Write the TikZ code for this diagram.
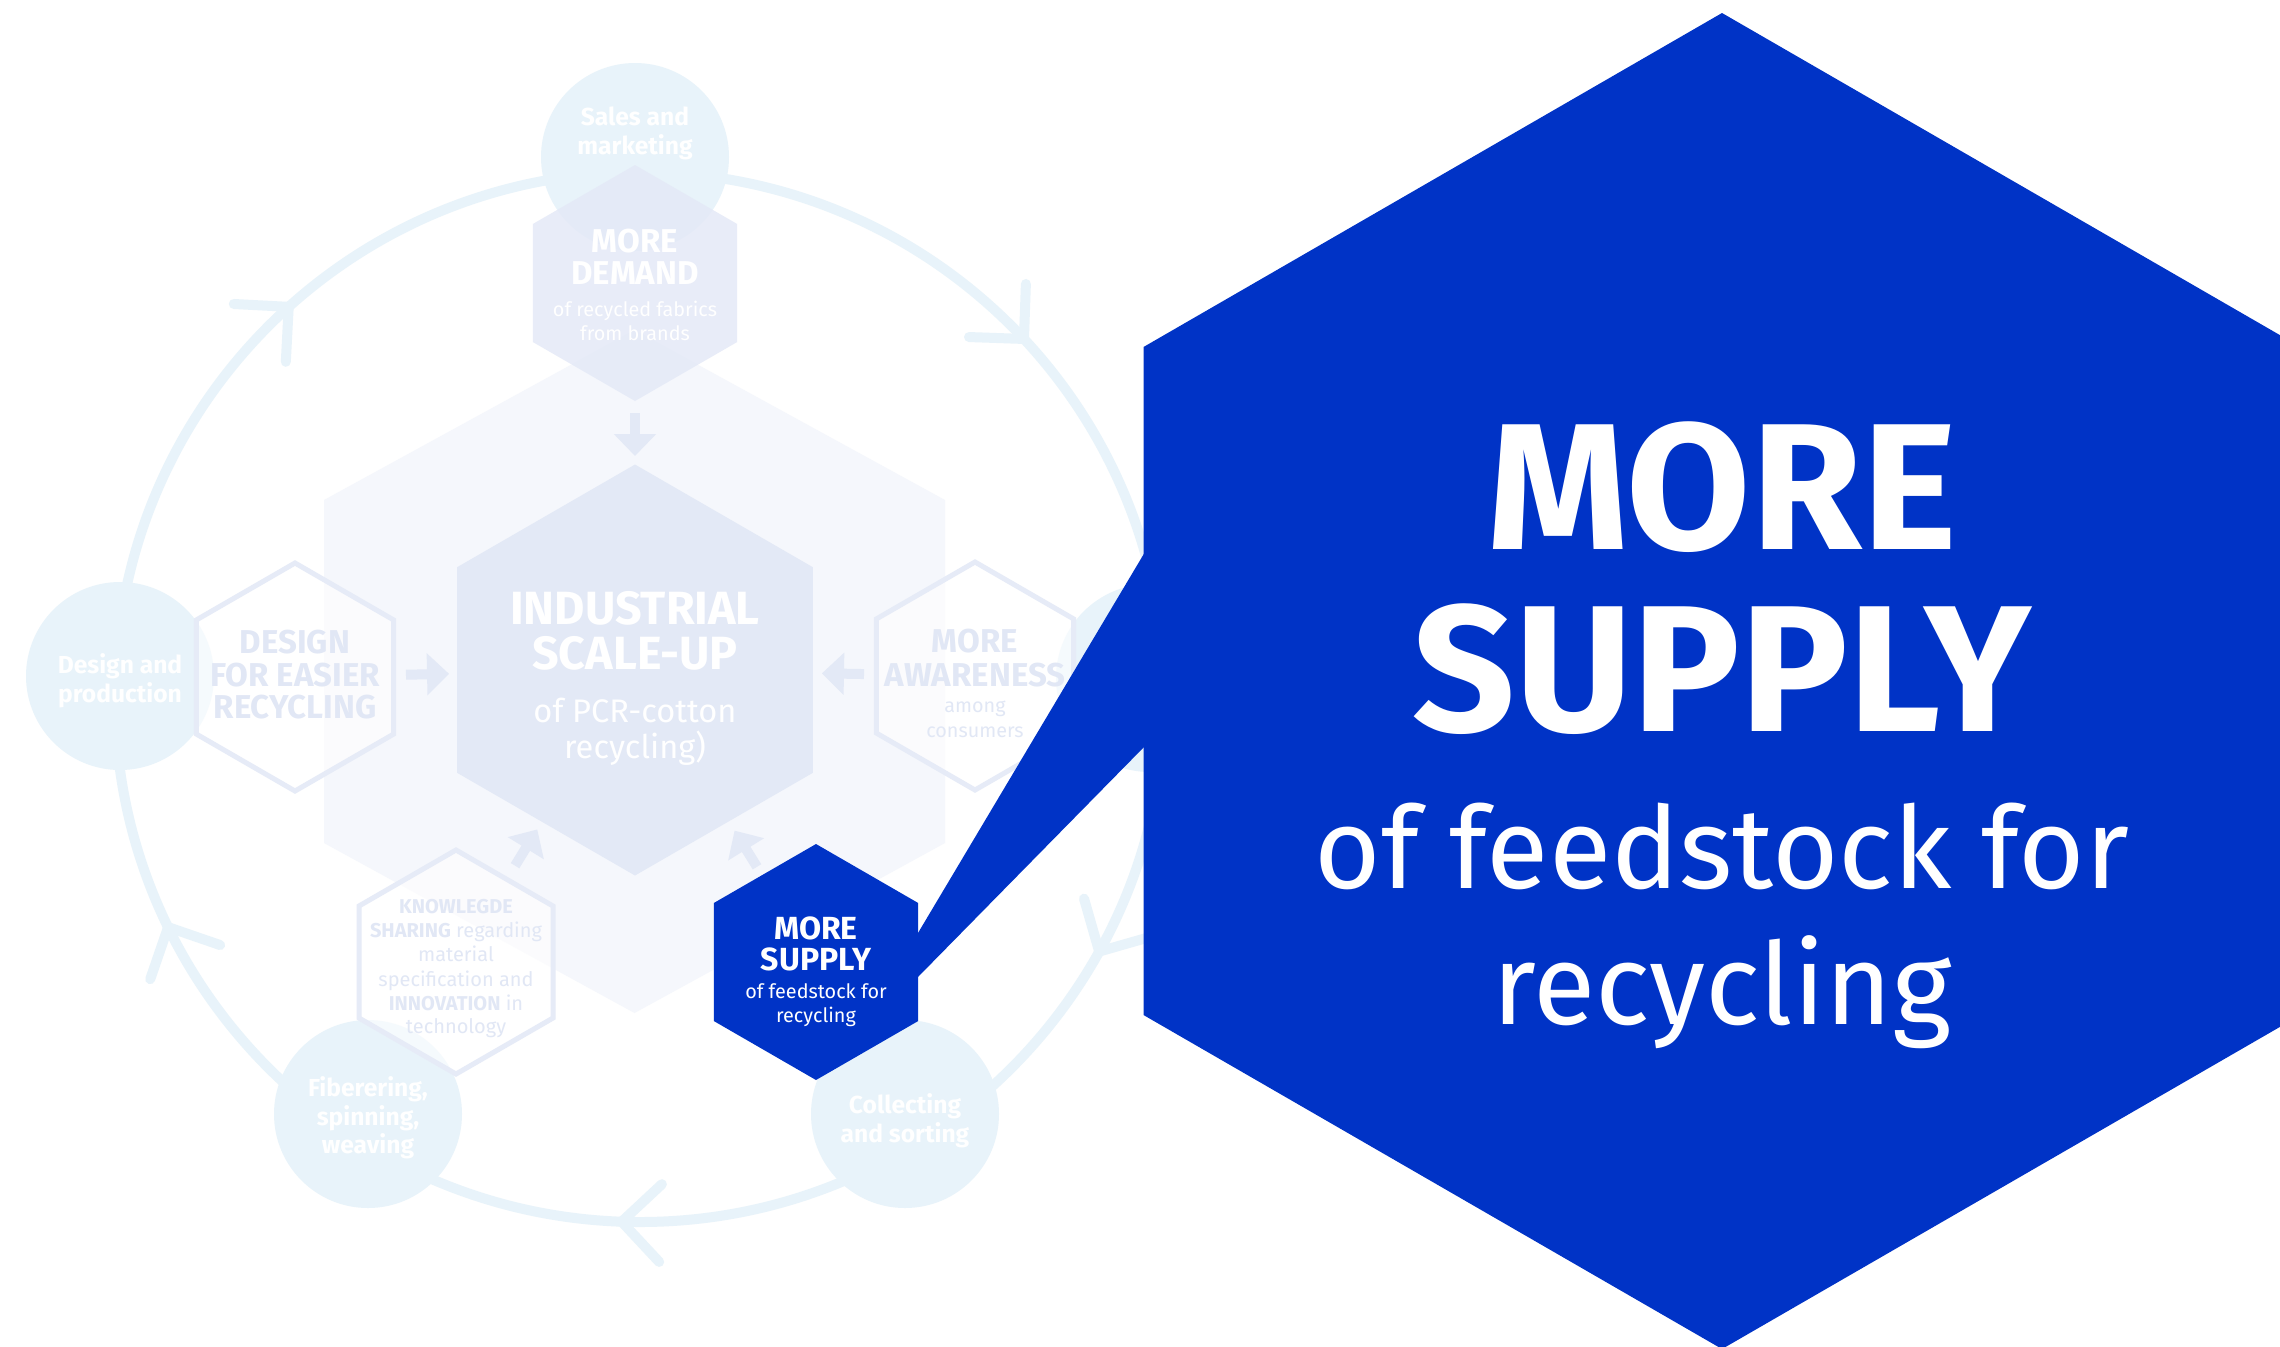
\documentclass[tikz,border=0pt]{standalone}
\usepackage{fontspec}
\setmainfont{Fira Sans}
\usetikzlibrary{calc,arrows.meta}
\definecolor{ringc}{HTML}{E8F3FA}
\definecolor{bghex}{HTML}{F5F7FC}
\definecolor{indhex}{HTML}{E3E9F6}
\definecolor{demhex}{HTML}{E4E9F7}
\definecolor{outl}{HTML}{E6EBF7}
\definecolor{outtext}{HTML}{E1E7F5}
\definecolor{arrowc}{HTML}{E3E9F6}
\definecolor{mainblue}{HTML}{0033C6}
\newcommand{\fsz}[1]{\fontsize{#1}{#1}\selectfont}
\tikzset{
  pics/hexa/.style={code={\path[pic actions] (0,-#1) -- ({0.8660254*#1},{-0.5*#1}) -- ({0.8660254*#1},{0.5*#1}) -- (0,#1) -- ({-0.8660254*#1},{0.5*#1}) -- ({-0.8660254*#1},{-0.5*#1}) -- cycle;}},
  tx/.style={anchor=base, inner sep=0pt, outer sep=0pt},
  circtx/.style={tx, text=white, font=\fsz{12.3}\bfseries},
  hexB/.style={tx, font=\fsz{16.5}\bfseries},
  hexS/.style={tx, font=\fsz{9.9}},
  ringline/.style={draw=ringc, line width=5pt},
  chev/.style={draw=ringc, line width=5pt, line cap=round, line join=round},
  stage/.style={fill=ringc},
  outhex/.style={draw=outl, line width=2.5pt, fill=white, fill opacity=0.6},
  fatarr/.style={draw=arrowc, line width=5pt, -{Triangle[length=11pt,width=20.5pt]}},
}
\begin{document}
\begin{tikzpicture}[x=0.5pt,y=-0.5pt]
\clip (0,0) rectangle (2280,1346);
\fill[white] (0,0) rectangle (2280,1346);

% centres
\coordinate (ringc) at (640,697);
\coordinate (sales) at (635,157);
\coordinate (designc) at (120,676);
\coordinate (fiber) at (368,1114);
\coordinate (collect) at (905,1114);
\coordinate (usec) at (1150,678);
\coordinate (demand) at (635,283);
\coordinate (ind) at (635,670);
\coordinate (design) at (295,677);
\coordinate (aware) at (975,676);
\coordinate (know) at (456,962);
\coordinate (supply) at (816,962);
\coordinate (bigsupply) at (1722,681);

% ring
\draw[ringline] (ringc) circle[radius=262.5pt];
\foreach \a [count=\i] in {132,43,-29,-92,206}{
  \coordinate (cv\i) at ($(ringc)+(\a:262.5pt)$);
  \draw[chev] ($(cv\i)+(\a+45:27.5pt)$) -- (cv\i) -- ($(cv\i)+(\a+135:27.5pt)$);
}

% stage circles
\fill[stage] (sales) circle[radius=47pt];
\fill[stage] (designc) circle[radius=47pt];
\fill[stage] (fiber) circle[radius=47pt];
\fill[stage] (collect) circle[radius=47pt];
\fill[stage] (usec) circle[radius=47pt];

% background hexagon
\fill[bghex] (634.5,330) -- (945,500) -- (945,843) -- (634.5,1013) -- (324,843) -- (324,500) -- cycle;

% demand hexagon
\pic[fill=demhex, fill opacity=0.85] at (demand) {hexa=118};
% industrial hexagon
\pic[fill=indhex] at (ind) {hexa=205.5};
% outline hexagons
\pic[outhex] at (design) {hexa=114};
\pic[outhex] at (aware) {hexa=114};
\pic[outhex] at (know) {hexa=112};

% arrows into the centre
\draw[fatarr, shorten <=65pt, shorten >=107pt] (demand) -- (ind);
\draw[fatarr, shorten <=55.5pt, shorten >=93pt] (design) -- (ind);
\draw[fatarr, shorten <=55.5pt, shorten >=93.5pt] (aware) -- (ind);
\draw[fatarr, shorten <=56.5pt, shorten >=93.5pt] (know) -- (ind);
\draw[fatarr, shorten <=56pt, shorten >=94.5pt] (supply) -- (ind);

% circle texts
\node[circtx] (t-sales1) at (635,125) {Sales and};
\node[circtx] (t-sales2) at (635,154) {marketing};
\node[circtx] (t-des1) at (120,673) {Design and};
\node[circtx] (t-des2) at (120,702) {production};
\node[circtx] (t-fib1) at (368,1096) {Fiberering,};
\node[circtx] (t-fib2) at (368,1125) {spinning,};
\node[circtx] (t-fib3) at (368,1153) {weaving};
\node[circtx] (t-col1) at (905,1113) {Collecting};
\node[circtx] (t-col2) at (905,1142) {and sorting};

% demand texts
\node[hexB, text=white] (t-dem1) at (635,252) {MORE};
\node[hexB, text=white] (t-dem2) at (635,284) {DEMAND};
\node[hexS, text=white] (t-dem3) at (635,316) {of recycled fabrics};
\node[hexS, text=white] (t-dem4) at (635,340) {from brands};

% industrial texts
\node[tx, text=white, font=\fsz{23.3}\bfseries] (t-ind1) at (635,624) {INDUSTRIAL};
\node[tx, text=white, font=\fsz{23.3}\bfseries] (t-ind2) at (635,669) {SCALE-UP};
\node[tx, text=white, font=\fsz{16.3}] (t-ind3) at (635,722) {of PCR-cotton};
\node[tx, text=white, font=\fsz{16.3}] (t-ind4) at (635,758) {recycling)};

% design hex texts
\node[hexB, text=outtext] (t-dh1) at (295,653) {DESIGN};
\node[hexB, text=outtext] (t-dh2) at (295,686) {FOR EASIER};
\node[hexB, text=outtext] (t-dh3) at (295,718) {RECYCLING};

% awareness texts
\node[hexB, text=outtext] (t-aw1) at (975,652) {MORE};
\node[hexB, text=outtext] (t-aw2) at (975,686) {AWARENESS};
\node[hexS, text=outtext] (t-aw3) at (975,712) {among};
\node[hexS, text=outtext] (t-aw4) at (975,737) {consumers};

% knowledge texts
\node[tx, text=outtext, font=\fsz{10}] (t-kn1) at (456,913) {\textbf{KNOWLEGDE}};
\node[tx, text=outtext, font=\fsz{10}] (t-kn2) at (456,937) {\textbf{SHARING} regarding};
\node[tx, text=outtext, font=\fsz{10}] (t-kn3) at (456,961) {material};
\node[tx, text=outtext, font=\fsz{10}] (t-kn4) at (456,986) {specification and};
\node[tx, text=outtext, font=\fsz{10}] (t-kn5) at (456,1010) {\textbf{INNOVATION} in};
\node[tx, text=outtext, font=\fsz{10}] (t-kn6) at (456,1033) {technology};

% highlighted: small hex, pointer wedge, big hex
\pic[fill=mainblue] at (supply) {hexa=118};
\fill[mainblue] (905,954.8) -- (1155,535.2) -- (1155,735.8) -- (905,990.2) -- cycle;
\pic[fill=mainblue] at (bigsupply) {hexa=668};

\node[hexB, font=\fsz{16}\bfseries, text=white] (t-s1) at (816,939) {MORE};
\node[hexB, font=\fsz{16}\bfseries, text=white] (t-s2) at (816,970) {SUPPLY};
\node[hexS, text=white] (t-s3) at (816,998) {of feedstock for};
\node[hexS, text=white] (t-s4) at (816,1022) {recycling};

\node[tx, text=white, font=\fsz{90}\bfseries] (t-b1) at (1722,549) {MORE};
\node[tx, text=white, font=\fsz{90}\bfseries] (t-b2) at (1722,731) {SUPPLY};
\node[tx, text=white, font=\fsz{57}] (t-b3) at (1722,888) {of feedstock for};
\node[tx, text=white, font=\fsz{57}] (t-b4) at (1722,1024) {recycling};
\end{tikzpicture}
\end{document}
